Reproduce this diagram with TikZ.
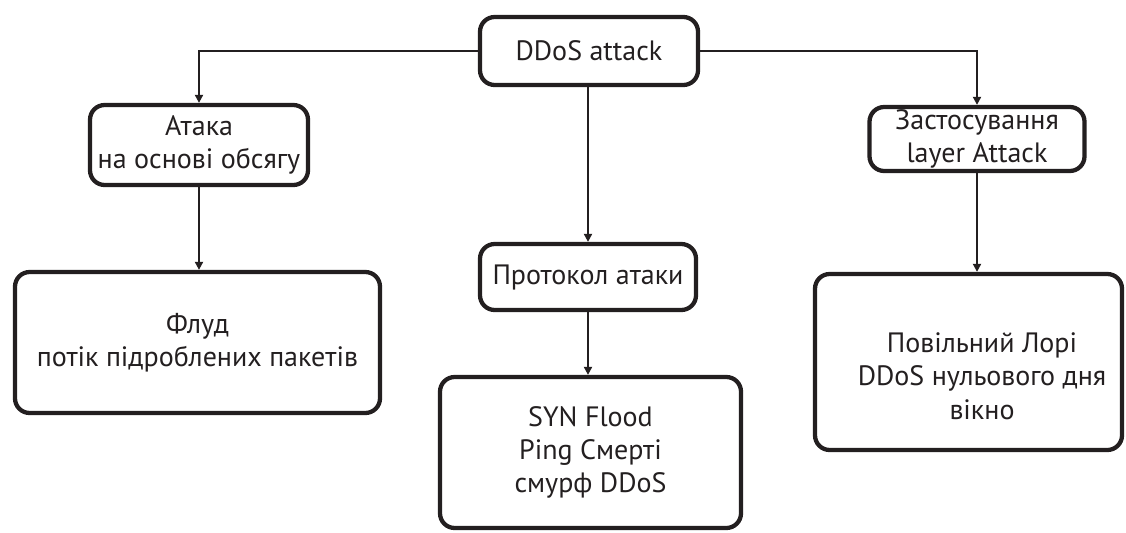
\documentclass[tikz,border=0pt]{standalone}
\usepackage{fontspec}
\setmainfont{PT Sans}
\usetikzlibrary{arrows.meta}
\definecolor{ink}{HTML}{231F20}
\begin{document}
\begin{tikzpicture}[x=0.75pt,y=-0.75pt,
  txt/.style={align=center,inner sep=0pt,text=ink,font=\fontsize{21}{25}\selectfont},
  box/.style={txt,draw=ink,line width=3.2pt,rounded corners=11pt},
  conn/.style={draw=ink,line width=1.4pt,-{Triangle[length=6pt,width=6pt]}}]
\useasboundingbox (0,0) rectangle (1126,532);
\node[box,minimum width=163.5pt,minimum height=51pt] (root) at (589,51) {DDoS attack};
\node[box,minimum width=163.5pt,minimum height=60pt] (vol) at (199,145) {Атака\\на основі обсягу};
\node[box,minimum width=161.25pt,minimum height=48pt] (app) at (977,139) {Застосування\\layer Attack};
\node[box,minimum width=162pt,minimum height=49.5pt] (proto) at (588,277) {Протокол атаки};
\node[box,minimum width=273.75pt,minimum height=105.75pt] (flood) at (197.5,342.5) {Флуд\\потік підроблених пакетів};
\node[box,minimum width=225.75pt,minimum height=113.25pt] (syn) at (590.5,452.5) {SYN Flood\\Ping Смерті\\смурф DDoS};
\node[box,minimum width=230.25pt,minimum height=132pt] (slow) at (968.5,362) {};
\node[txt] (slowtxt) at (982,376) {Повільний Лорі\\DDoS нульового дня\\вікно};
\draw[conn] (root.west) -| (vol.north);
\draw[conn] (root.east) -| (app.north);
\draw[conn] (root.south -| proto.north) -- (proto.north);
\draw[conn] (vol.south) -- (vol.south |- flood.north);
\draw[conn] (proto.south) -- (proto.south |- syn.north);
\draw[conn] (app.south) -- (app.south |- slow.north);
\end{tikzpicture}
\end{document}
